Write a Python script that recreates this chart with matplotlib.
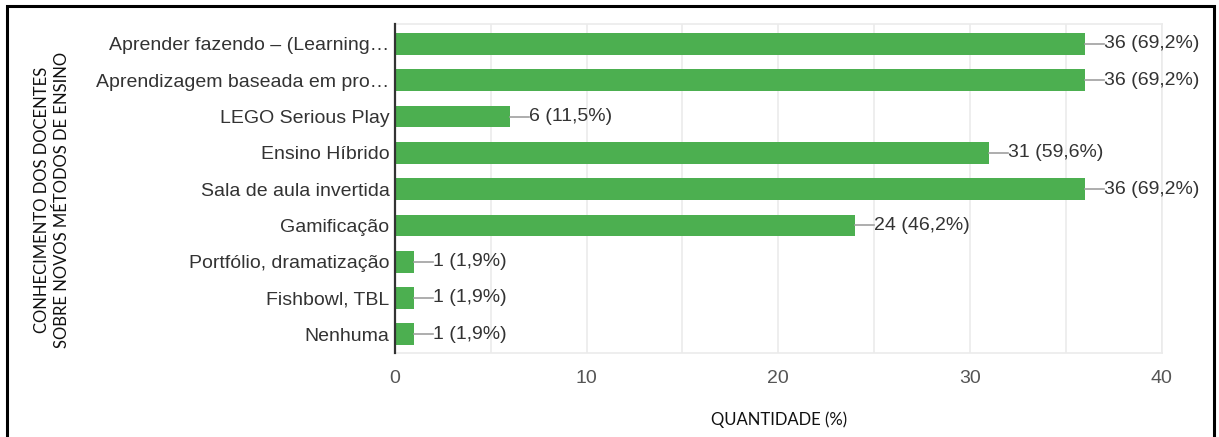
import matplotlib
matplotlib.use("Agg")
import matplotlib.pyplot as plt
import matplotlib.patches as patches

# respostas dos docentes (52 no total)
metodos = [
    "Aprender fazendo – (Learning…",
    "Aprendizagem baseada em pro…",
    "LEGO Serious Play",
    "Ensino Híbrido",
    "Sala de aula invertida",
    "Gamificação",
    "Portfólio, dramatização",
    "Fishbowl, TBL",
    "Nenhuma",
]
quantidade = [36, 36, 6, 31, 36, 24, 1, 1, 1]
percentual = ["69,2", "69,2", "11,5", "59,6", "69,2", "46,2", "1,9", "1,9", "1,9"]
xticks = [0, 10, 20, 30, 40]

VERDE = "#4caf50"

fig = plt.figure(figsize=(12.19, 4.37), dpi=100)
ax = fig.add_axes([0.324, 0.192, 0.629, 0.753])

y = list(range(len(metodos)))
ax.barh(y, quantidade, height=0.6, color=VERDE, zorder=3)

# rótulo de valor com um pequeno traço ligando à barra
for yi, q, p in zip(y, quantidade, percentual):
    ax.plot([q, q + 1.0], [yi, yi], color="#a0a0a0", lw=1.2, zorder=3)
    ax.text(q + 1.0, yi, f"{q} ({p}%)", va="center", ha="left",
            fontsize=14, color="#333333", family="Liberation Sans")

ax.set_xlim(0, 40)
ax.set_ylim(len(metodos) - 0.48, -0.55)
ax.set_yticks(y)
ax.set_yticklabels(metodos, fontsize=14, color="#333333", family="Liberation Sans")
ax.set_xticks(xticks)
ax.set_xticklabels([str(t) for t in xticks], fontsize=14, color="#555555",
                   family="Liberation Sans")
ax.set_xticks(range(5, 40, 10), minor=True)
ax.tick_params(axis="both", which="both", length=0)
ax.tick_params(axis="y", pad=4)
ax.tick_params(axis="x", pad=12)

ax.grid(axis="x", which="both", color="#ebebeb", lw=1.2, zorder=0)
for s in ["top", "right", "bottom"]:
    ax.spines[s].set_color("#ebebeb")
    ax.spines[s].set_linewidth(1.2)
ax.spines["left"].set_color("#333333")
ax.spines["left"].set_linewidth(1.6)
ax.spines["left"].set_zorder(4)

fig.text(0.639, 0.039, "QUANTIDADE (%)", ha="center", va="center",
         fontsize=12, family="Lato", color="#111111")
fig.text(0.0425, 0.542, "CONHECIMENTO DOS DOCENTES\nSOBRE NOVOS MÉTODOS DE ENSINO",
         ha="center", va="center", rotation=90, fontsize=12, family="Lato",
         color="#111111", linespacing=1.35)

# moldura preta em volta da figura
fig.patches.append(patches.Rectangle((0.006, -0.05), 0.9895, 1.036,
                                     transform=fig.transFigure, fill=False,
                                     edgecolor="black", lw=2.2))

fig.savefig("out.png", dpi=100)
